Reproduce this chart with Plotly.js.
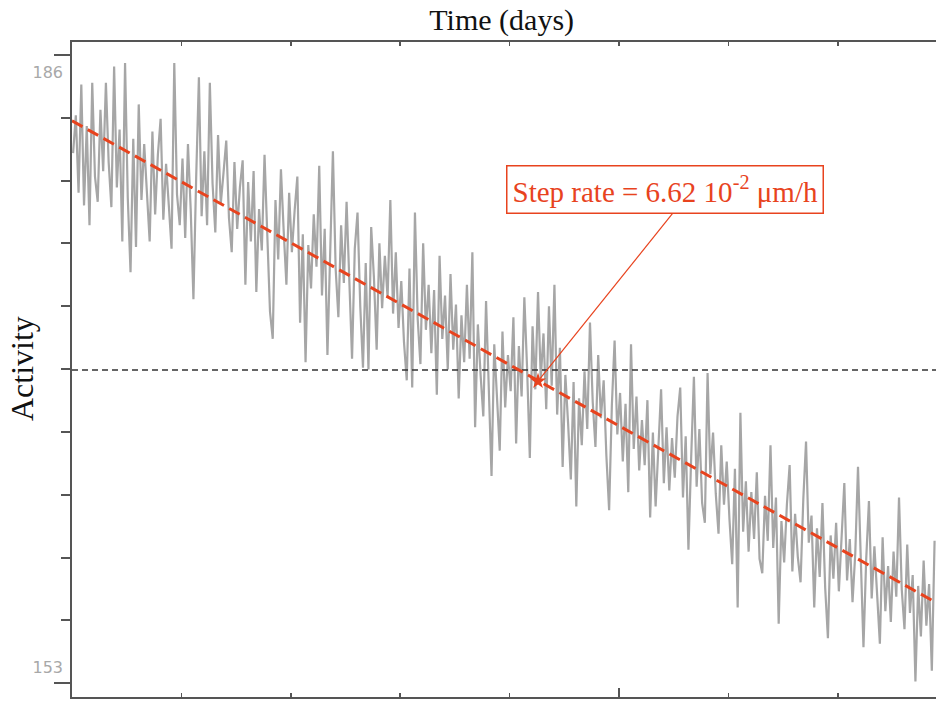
<!DOCTYPE html>
<html>
<head>
<meta charset="utf-8">
<script src="https://cdn.plot.ly/plotly-3.0.1.min.js"></script>
<style>
html,body{margin:0;padding:0;background:#fff;overflow:hidden;}
#chart{width:936px;height:702px;}
</style>
</head>
<body>
<div id="chart"></div>
<script>
// ---- data ----
const timeStart = 0.01;      // days
const timeStep = 0.025;      // days between samples
const activity = [
181.5,183.6,179.3,185.3,178.6,183.0,177.5,185.4,180.2,178.8,183.9,180.5,185.4,181.0,178.5,186.3,179.6,182.8,176.6,186.5,
179.0,174.9,182.3,176.3,184.2,178.9,182.0,179.5,176.6,182.7,178.1,181.4,183.4,177.8,180.9,178.6,176.2,186.5,179.2,177.5,
181.2,176.8,182.0,178.4,173.4,180.1,185.7,178.0,181.6,177.5,185.4,179.8,177.1,182.5,178.7,180.4,182.2,177.9,176.0,181.0,
177.3,179.6,181.1,174.2,179.9,176.6,180.5,173.8,178.4,176.1,181.4,177.0,172.7,171.2,178.9,175.6,180.6,177.2,174.2,179.3,
176.0,178.3,180.2,172.1,177.0,169.9,176.4,174.0,178.1,175.2,180.8,173.6,177.3,170.3,176.8,181.6,175.1,172.4,177.5,174.3,
178.8,173.8,170.1,176.2,178.2,173.0,169.6,175.4,169.5,177.4,174.6,170.6,176.5,172.9,175.8,173.5,178.9,172.6,176.0,171.8,
174.4,171.0,168.9,175.1,168.5,178.2,172.3,169.8,176.5,171.7,174.2,170.4,173.9,168.1,175.8,171.2,173.6,169.5,174.8,170.6,
173.1,167.9,172.5,169.9,174.2,170.1,176.0,166.3,172.0,169.2,166.9,173.3,168.7,163.6,170.9,168.2,165.0,171.6,167.4,170.3,
168.3,172.4,165.4,170.8,168.0,173.5,169.6,164.6,171.9,168.4,173.8,169.0,171.5,167.3,173.0,168.6,174.2,167.0,170.7,164.1,
169.2,166.5,163.4,168.8,161.9,167.9,165.3,169.4,166.2,172.1,167.7,165.2,170.3,166.8,168.9,164.7,161.7,167.5,171.1,165.9,
168.2,164.4,167.6,162.7,170.9,165.1,168.0,163.9,166.7,164.2,167.8,161.3,166.0,161.9,165.4,168.4,163.2,166.3,162.8,165.7,
163.5,166.9,168.5,162.4,165.8,159.5,164.6,169.1,163.0,166.2,162.1,161.0,169.3,163.7,166.0,162.6,160.4,165.3,162.0,164.4,
161.2,158.7,164.0,156.3,167.1,160.5,163.3,159.4,162.7,160.1,163.8,159.0,158.2,162.5,160.0,165.3,159.6,162.4,155.4,161.1,
158.8,162.0,164.2,158.3,161.5,159.1,157.7,162.3,165.5,159.9,161.4,156.3,160.7,158.0,162.1,157.4,154.6,160.3,157.9,161.0,
157.2,160.4,163.2,157.8,160.1,156.6,159.3,164.1,158.5,154.1,159.0,162.2,156.8,159.7,157.0,154.3,160.2,156.1,158.6,155.5,
159.4,156.9,162.4,157.3,155.1,159.8,156.0,158.1,152.2,157.5,154.7,158.9,155.3,157.6,152.8,160.0
];
// fitted trend (red dashed)
const fitTime = [0, 7.9];
const fitActivity = [183.29, 156.57];
// reference level (black dotted)
const refTime = [0, 7.9];
const refActivity = [169.47, 169.47];
// pointer from the label box to the marked point
const pointerTime = [5.494, 4.26];
const pointerActivity = [178.18, 168.85];
const markTime = [4.26];
const markActivity = [168.85];
const labelTime = 5.42;
const labelActivity = 179.46;
// axes
const xTicks = [1, 2, 3, 4, 5, 6, 7];
const xLongTick = [5];
const yTicks = [186.94, 183.46, 179.97, 176.49, 173.01, 169.52, 166.04, 162.56, 159.07, 155.59, 152.11];
const yLongTicks = [186.94, 152.11];
const yLabelVals = [186, 153];
const yLabelText = ['186', '153'];
const xRange = [0, 7.898];
const yRange = [151.34, 187.66];

const red = '#e8431e';
const frame = '#555555';

const traces = [
  {x0: timeStart, dx: timeStep, y: activity, type: 'scatter', mode: 'lines',
   line: {color: '#a6a6a6', width: 2.2}, hoverinfo: 'skip'},
  {x: refTime, y: refActivity, type: 'scatter', mode: 'lines',
   line: {color: '#333333', width: 1.5, dash: '6px,4px'}},
  {x: fitTime, y: fitActivity, type: 'scatter', mode: 'lines',
   line: {color: red, width: 3, dash: '12px,6px'}},
  {x: pointerTime, y: pointerActivity, type: 'scatter', mode: 'lines',
   line: {color: red, width: 1.2}, hoverinfo: 'skip'},
  {x: markTime, y: markActivity, type: 'scatter', mode: 'markers',
   marker: {symbol: 'star', size: 12, color: red}},
  // carriers so that the overlay axes are drawn
  {x: refTime, y: refActivity, xaxis: 'x2', yaxis: 'y', type: 'scatter', mode: 'lines',
   line: {color: 'rgba(0,0,0,0)', width: 0}, hoverinfo: 'skip'},
  {x: refTime, y: refActivity, xaxis: 'x', yaxis: 'y2', type: 'scatter', mode: 'lines',
   line: {color: 'rgba(0,0,0,0)', width: 0}, hoverinfo: 'skip'},
  {x: refTime, y: refActivity, xaxis: 'x', yaxis: 'y3', type: 'scatter', mode: 'lines',
   line: {color: 'rgba(0,0,0,0)', width: 0}, hoverinfo: 'skip'}
];

const layout = {
  width: 936, height: 702,
  margin: {l: 72, r: 0, t: 42, b: 5},
  paper_bgcolor: '#ffffff', plot_bgcolor: '#ffffff',
  showlegend: false,
  title: {text: 'Time (days)', font: {family: 'Liberation Serif', size: 30, color: '#111'},
          x: 0.536, xanchor: 'center', xref: 'container', y: 0.972, yanchor: 'middle', yref: 'container'},
  xaxis: {range: xRange, showgrid: false, zeroline: false, showline: true, linecolor: frame, linewidth: 2,
          mirror: 'ticks', ticks: 'inside', ticklen: 4, tickwidth: 1.5, tickcolor: frame,
          tickvals: xTicks, showticklabels: false},
  xaxis2: {range: xRange, overlaying: 'x', side: 'bottom', anchor: 'y', showgrid: false, zeroline: false,
           showline: false, ticks: 'inside', ticklen: 9, tickwidth: 1.5, tickcolor: frame,
           tickvals: xLongTick, showticklabels: false},
  yaxis: {range: yRange, showgrid: false, zeroline: false, showline: true, linecolor: frame, linewidth: 2,
          ticks: 'outside', ticklen: 9, tickwidth: 2, tickcolor: frame, tickvals: yTicks, showticklabels: false},
  yaxis2: {range: yRange, overlaying: 'y', side: 'left', anchor: 'x', showgrid: false, zeroline: false,
           showline: false, ticks: 'outside', ticklen: 17, tickwidth: 2, tickcolor: frame,
           tickvals: yLongTicks, showticklabels: false},
  yaxis3: {range: yRange, overlaying: 'y', side: 'left', anchor: 'x', showgrid: false, zeroline: false,
           showline: false, ticks: '', tickvals: yLabelVals, ticktext: yLabelText, ticklabelstandoff: 8,
           showticklabels: true, tickfont: {family: 'DejaVu Sans', size: 16, color: '#a8a8a8'}},
  annotations: [
    {text: 'Activity', textangle: -90, xref: 'paper', yref: 'paper', x: -0.058, y: 0.502,
     xanchor: 'center', yanchor: 'middle', showarrow: false,
     font: {family: 'Liberation Serif', size: 32, color: '#111'}},
    {text: 'Step rate = 6.62 10<sup>-2</sup> \u03bcm/h', xref: 'x', yref: 'y', x: labelTime, y: labelActivity,
     xanchor: 'center', yanchor: 'middle', showarrow: false,
     font: {family: 'Liberation Serif', size: 29, color: red},
     bordercolor: red, borderwidth: 1.5, borderpad: 5, bgcolor: '#ffffff'}
  ]
};

Plotly.newPlot('chart', traces, layout, {displayModeBar: false, staticPlot: true});
</script>
</body>
</html>
